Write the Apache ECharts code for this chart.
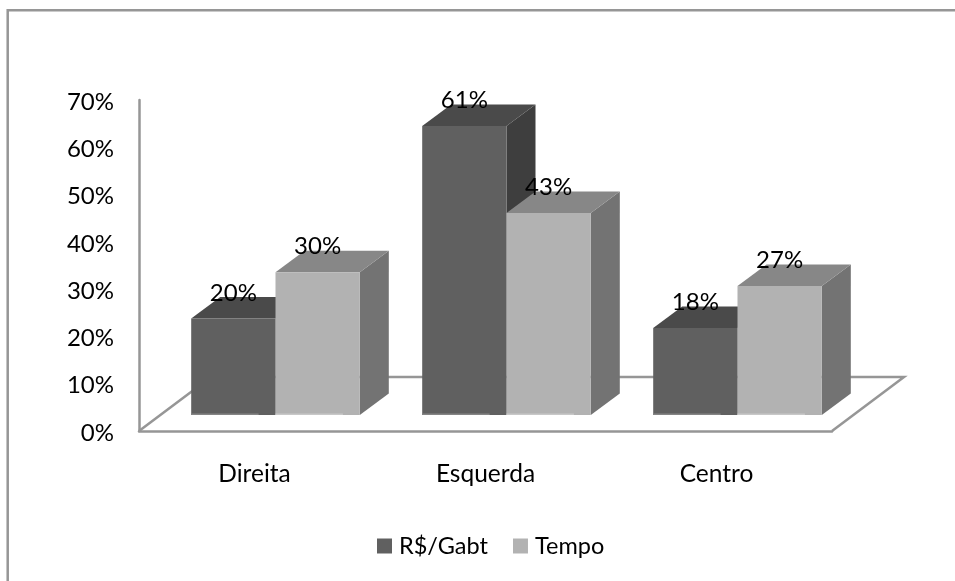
<!DOCTYPE html>
<html><head><meta charset="utf-8">
<style>html,body{margin:0;padding:0;background:#fff}#c{width:955px;height:581px}</style>
<script src="https://cdn.jsdelivr.net/npm/echarts@6/dist/echarts.min.js"></script>
</head><body><div id="c"></div>
<script>
const categories = ['Direita', 'Esquerda', 'Centro'];
const gabtValues = [20.4, 61.1, 18.4];
const tempoValues = [30.2, 42.7, 27.3];
const yTicks = [0, 10, 20, 30, 40, 50, 60, 70];

const FONT = 'Lato';
const FS = 24;
const FS_CAT = 24.5;
const BAR_W = 84.3;
const shift = [21, -16];      // bars stand this far into the floor
const depth = [29, -21.5];    // bar depth
const floorDepth = [72, -54];
const axisColor = '#969696';

function boxItem(colors, side) {
  return function (params, api) {
    const c = api.coord([api.value(0), api.value(1)]);
    const b = api.coord([api.value(0), 0]);
    const x0 = c[0] + shift[0] + (side < 0 ? -BAR_W : 0);
    const x1 = x0 + BAR_W;
    const yt = c[1] + shift[1];
    const yb = b[1] + shift[1];
    const dx = depth[0], dy = depth[1];
    return {
      type: 'group',
      children: [
        { type: 'polygon', shape: { points: [[x1, yt], [x1 + dx, yt + dy], [x1 + dx, yb + dy], [x1, yb]] }, style: { fill: colors.side } },
        { type: 'polygon', shape: { points: [[x0, yt], [x0 + dx, yt + dy], [x1 + dx, yt + dy], [x1, yt]] }, style: { fill: colors.top } },
        { type: 'rect', shape: { x: x0, y: yt, width: BAR_W, height: yb - yt }, style: { fill: colors.front } },
        { type: 'rect', shape: { x: x0, y: yb - 1.5, width: BAR_W * 0.8, height: 1.5 }, style: { fill: colors.edge } },
        { type: 'text', z2: 10, style: { x: (x0 + x1) / 2, y: yt - 25.5, text: api.value(1).toFixed(0) + '%', align: 'center', verticalAlign: 'middle', fill: '#000', font: FS + 'px ' + FONT } }
      ]
    };
  };
}

const chart = echarts.init(document.getElementById('c'), null, { renderer: 'canvas' });
chart.setOption({
  animation: false,
  backgroundColor: '#fff',
  graphic: [{ type: 'polyline', silent: true, shape: { points: [[7.7, 581], [7.7, 10.3], [955, 10.3]] }, style: { stroke: '#969696', lineWidth: 2.5, fill: null } }],
  grid: { left: 139, width: 693, top: 100, height: 331 },
  legend: {
    left: 377, top: 534, padding: 0, itemWidth: 15, itemHeight: 15, itemGap: 25,
    icon: 'rect',
    textStyle: { fontFamily: FONT, fontSize: 23.5, color: '#000', padding: [3, 0, 0, 2] },
    data: ['R$/Gabt', 'Tempo']
  },
  xAxis: {
    type: 'category', data: categories,
    axisLine: { show: true, lineStyle: { color: axisColor, width: 2.5 } },
    axisTick: { show: false }, splitLine: { show: false },
    axisLabel: { fontFamily: FONT, fontSize: FS_CAT, color: '#000', margin: 31 }
  },
  yAxis: {
    type: 'value', min: 0, max: 70, interval: 10,
    axisLine: { show: true, lineStyle: { color: axisColor, width: 2.5 } },
    axisTick: { show: false }, splitLine: { show: false },
    axisLabel: { fontFamily: FONT, fontSize: FS, color: '#000', margin: 25, verticalAlign: 'top', lineHeight: 4, formatter: v => yTicks.includes(v) ? v + '%' : '' }
  },
  series: [
    {
      type: 'custom', silent: true, legendHoverLink: false, data: [[0]], z: 1, encode: { x: 0 },
      renderItem: function (params, api) {
        const s = params.coordSys;
        const bl = [s.x, s.y + s.height], br = [s.x + s.width, s.y + s.height];
        return { type: 'polyline', shape: { points: [bl, [bl[0] + floorDepth[0], bl[1] + floorDepth[1]], [br[0] + floorDepth[0], br[1] + floorDepth[1]], br] }, style: { stroke: axisColor, lineWidth: 2.5, fill: null } };
      }
    },
    {
      name: 'R$/Gabt', type: 'custom', z: 2, itemStyle: { color: '#606060' },
      renderItem: boxItem({ front: '#606060', top: '#4a4a4a', side: '#3e3e3e', edge: '#858585' }, -1),
      encode: { x: 0, y: 1 }, data: gabtValues.map((v, i) => [i, v])
    },
    {
      name: 'Tempo', type: 'custom', z: 3, itemStyle: { color: '#b2b2b2' },
      renderItem: boxItem({ front: '#b2b2b2', top: '#878787', side: '#737373', edge: '#c8c8c8' }, 1),
      encode: { x: 0, y: 1 }, data: tempoValues.map((v, i) => [i, v])
    }
  ]
});
</script></body></html>
